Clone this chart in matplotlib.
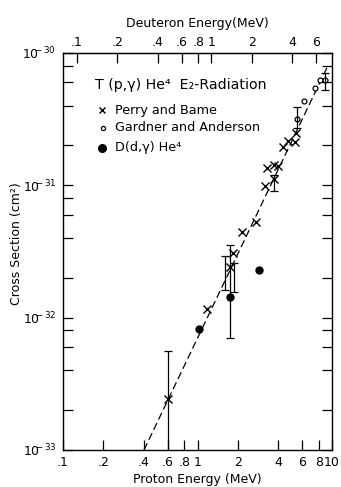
import matplotlib
matplotlib.use("Agg")
import matplotlib.pyplot as plt
import numpy as np
from matplotlib.ticker import FixedLocator, FixedFormatter, NullFormatter

plt.rcParams['font.family'] = ['DejaVu Sans']

# Perry and Bame (x markers): proton energy (MeV), cross section (cm^2)
pb_E = [0.60, 1.17, 1.73, 1.85, 2.15, 2.73, 3.19, 3.26, 3.72, 3.98, 3.72, 4.34, 4.67, 5.32, 5.38]
pb_s = [2.43e-33, 1.16e-32, 2.42e-32, 3.08e-32, 4.44e-32, 5.3e-32, 9.9e-32, 1.35e-31,
        1.43e-31, 1.40e-31, 1.11e-31, 1.94e-31, 2.18e-31, 2.14e-31, 2.48e-31]
# Perry and Bame error bars: energy, centre, lower, upper
pb_eb_E = [0.60, 1.60, 1.87, 3.72]
pb_eb_c = [2.43e-33, 2.2e-32, 2.0e-32, 1.11e-31]
pb_eb_lo = [0.5e-33, 1.62e-32, 1.55e-32, 0.91e-31]
pb_eb_hi = [5.6e-33, 2.93e-32, 2.6e-32, 1.20e-31]

# Gardner and Anderson (open circles)
ga_E = [5.53, 6.2, 7.48, 8.15, 8.83]
ga_s = [3.18e-31, 4.37e-31, 5.42e-31, 6.26e-31, 6.26e-31]
ga_err_idx = [0, 4]
ga_err_lo = [2.70e-31, 5.26e-31]
ga_err_hi = [3.94e-31, 7.07e-31]

# D(d,gamma)He4 (filled circles), plotted against equivalent proton energy
dd_E = [1.02, 1.73, 2.88]
dd_s = [8.2e-33, 1.43e-32, 2.29e-32]
dd_err_idx = [1]
dd_err_lo = [6.99e-33]
dd_err_hi = [3.55e-32]

# dashed fit line endpoints
fit_E = [0.40, 9.2]
fit_s = [1.0e-33, 7.8e-31]

x_ticks = [0.1, 0.2, 0.4, 0.6, 0.8, 1, 2, 4, 6, 8, 10]
x_labels = ['.1', '.2', '.4', '.6', '.8', '1', '2', '4', '6', '8', '10']
top_ticks = [0.1, 0.2, 0.4, 0.6, 0.8, 1, 2, 4, 6]
top_labels = ['.1', '.2', '.4', '.6', '.8', '1', '2', '4', '6']
d_to_p = 1.27  # proton energy / deuteron energy scale
y_major = [1e-33, 1e-32, 1e-31, 1e-30]
y_labels = [r'$10^{\!\!\!\!-33}$', r'$10^{\!\!\!\!-32}$', r'$10^{\!\!\!\!-31}$', r'$10^{\!\!\!\!-30}$']

fig = plt.figure(figsize=(3.41, 4.87), dpi=100)
ax = fig.add_axes([63/341, 1-450/487, (332-63)/341, (450-53)/487])
ax.set_xscale('log')
ax.set_yscale('log')
ax.set_xlim(0.1, 10)
ax.set_ylim(1e-33, 1e-30)

ax.plot(fit_E, fit_s, color='black', lw=0.9, ls=(0, (6, 3)))

ebkw = dict(fmt='none', ecolor='black', elinewidth=0.9, capsize=3, capthick=0.9)
ax.plot(pb_E, pb_s, 'x', color='black', ms=6, mew=1.0)
for e, c, lo, hi in zip(pb_eb_E, pb_eb_c, pb_eb_lo, pb_eb_hi):
    ax.errorbar([e], [c], yerr=[[c-lo], [hi-c]], **ebkw)
ax.plot(ga_E, ga_s, 'o', mfc='white', mec='black', ms=3.5, mew=0.9)
for i, lo, hi in zip(ga_err_idx, ga_err_lo, ga_err_hi):
    ax.errorbar([ga_E[i]], [ga_s[i]], yerr=[[ga_s[i]-lo], [hi-ga_s[i]]], **ebkw)
ax.plot(dd_E, dd_s, 'o', color='black', ms=5)
for i, lo, hi in zip(dd_err_idx, dd_err_lo, dd_err_hi):
    ax.errorbar([dd_E[i]], [dd_s[i]], yerr=[[dd_s[i]-lo], [hi-dd_s[i]]], **ebkw)

ax.xaxis.set_major_locator(FixedLocator(x_ticks))
ax.xaxis.set_major_formatter(FixedFormatter(x_labels))
ax.xaxis.set_minor_locator(FixedLocator([]))
ax.yaxis.set_major_locator(FixedLocator(y_major))
ax.yaxis.set_major_formatter(FixedFormatter(y_labels))
minors = [m * d for d in [1e-33, 1e-32, 1e-31] for m in (2, 4, 6, 8)]
ax.yaxis.set_minor_locator(FixedLocator(minors))
ax.yaxis.set_minor_formatter(NullFormatter())
ax.tick_params(axis='x', which='both', direction='in', length=7, width=0.9, labelsize=9, pad=4)
ax.tick_params(axis='y', which='both', direction='in', length=7, width=0.9, labelsize=9,
               right=True, left=True, pad=5)
for s in ax.spines.values():
    s.set_linewidth(1.0)

sec = ax.secondary_xaxis('top', functions=(lambda x: x / d_to_p, lambda x: x * d_to_p))
sec.set_xscale('log')
sec.xaxis.set_major_locator(FixedLocator(top_ticks))
sec.xaxis.set_major_formatter(FixedFormatter(top_labels))
sec.xaxis.set_minor_locator(FixedLocator([]))
sec.tick_params(axis='x', direction='in', length=7, width=0.9, labelsize=9, pad=3)
sec.set_xlabel('Deuteron Energy(MeV)', fontsize=9, labelpad=6)

ax.set_xlabel('Proton Energy (MeV)', fontsize=9, labelpad=3)
ax.set_ylabel('Cross Section (cm\u00b2)', fontsize=9)
ax.yaxis.set_label_coords(-0.15, 0.52)

# legend-like annotation
fs = 9.2
ax.text(0.119, 0.919, 'T (p,\u03b3) He\u2074  E\u2082-Radiation', transform=ax.transAxes,
        fontsize=10.2, va='center')
ax.plot([0.145], [0.856], 'x', color='black', ms=5, mew=1.0, transform=ax.transAxes)
ax.text(0.193, 0.856, 'Perry and Bame', transform=ax.transAxes, fontsize=fs, va='center')
ax.plot([0.148], [0.812], 'o', mfc='white', mec='black', ms=3, mew=0.9, transform=ax.transAxes)
ax.text(0.193, 0.812, 'Gardner and Anderson', transform=ax.transAxes, fontsize=fs, va='center')
ax.plot([0.145], [0.761], 'o', color='black', ms=5.5, transform=ax.transAxes)
ax.text(0.193, 0.761, 'D(d,\u03b3) He\u2074', transform=ax.transAxes, fontsize=fs, va='center')

fig.savefig('out.png', dpi=100)
